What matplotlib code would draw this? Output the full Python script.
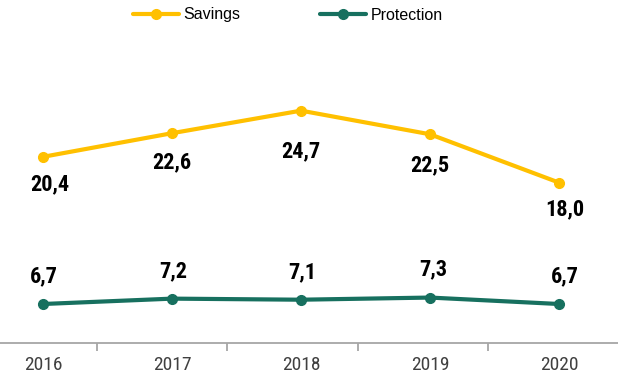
import matplotlib
matplotlib.use("Agg")
import matplotlib.pyplot as plt
from matplotlib import font_manager

years = ["2016", "2017", "2018", "2019", "2020"]
savings = [20.4, 22.6, 24.7, 22.5, 18.0]
protection = [6.7, 7.2, 7.1, 7.3, 6.7]
savings_labels = ["20,4", "22,6", "24,7", "22,5", "18,0"]
protection_labels = ["6,7", "7,2", "7,1", "7,3", "6,7"]

# label offsets in points (style only)
sav_off = [(5, -20), (0, -21), (0, -29.5), (0, -22), (4, -19)]
pro_off = [(1, 20), (1, 20), (1, 20), (2, 20), (4, 20)]

gold = "#FFC000"
teal = "#17705F"

ttf = font_manager.fontManager.ttflist


def has_bold(name):
    for f in ttf:
        if f.name == name:
            w = f.weight
            if isinstance(w, str):
                if "bold" in w.lower() or w.lower() in ("heavy", "black"):
                    return True
            elif w >= 700:
                return True
    return False


available = {f.name for f in ttf}
cands = ["Liberation Sans Narrow", "Arial Narrow", "Roboto Condensed", "PT Sans Narrow",
         "Archivo Narrow", "Fira Sans Condensed", "IBM Plex Sans Condensed", "Barlow Condensed"]
narrow_b = "Liberation Sans"
for cand in cands:
    if cand in available and has_bold(cand):
        narrow_b = cand
        break
narrow = "Liberation Sans"
for cand in cands:
    if cand in available:
        narrow = cand
        break

fig = plt.figure(figsize=(6.18, 3.79), dpi=100)
ax = fig.add_axes([0, (379 - 343) / 379, 1, 343 / 379])
x = list(range(len(years)))

ax.plot(x, savings, color=gold, lw=3, marker="o", ms=7, label="Savings", solid_capstyle="round")
ax.plot(x, protection, color=teal, lw=3, marker="o", ms=7, label="Protection", solid_capstyle="round")

lab_font = dict(family=[narrow_b, "DejaVu Sans"], fontsize=16, fontweight="bold", color="black")
for i in x:
    ax.annotate(savings_labels[i], (i, savings[i]), xytext=sav_off[i], textcoords="offset points",
                ha="center", va="center", **lab_font)
    ax.annotate(protection_labels[i], (i, protection[i]), xytext=pro_off[i], textcoords="offset points",
                ha="center", va="center", **lab_font)

ax.set_xlim(-0.333, 4.457)
ax.set_ylim(3.07, 35)

for s in ["top", "right", "left"]:
    ax.spines[s].set_visible(False)
ax.spines["bottom"].set_color("#A6A6A6")
ax.spines["bottom"].set_linewidth(1.3)
ax.set_yticks([])
ax.set_xticks(x)
ax.set_xticklabels(years, family=[narrow, "DejaVu Sans"], fontsize=14, color="#404040")
ax.set_xticks([0.42, 1.43, 2.44, 3.45], minor=True)
ax.tick_params(axis="x", which="major", length=0, pad=9)
ax.tick_params(axis="x", which="minor", length=6, width=1.3, color="#A6A6A6", direction="out")

leg = ax.legend(loc="center left", bbox_to_anchor=(133 / 618, 1 - 15 / 379),
                bbox_transform=fig.transFigure, ncol=2, frameon=False, borderpad=0,
                borderaxespad=0, prop=dict(family=["Liberation Sans", "DejaVu Sans"], size=11.5),
                handlelength=2.9, columnspacing=5.0, handletextpad=0.25)
fig.savefig("out.png", dpi=100)
